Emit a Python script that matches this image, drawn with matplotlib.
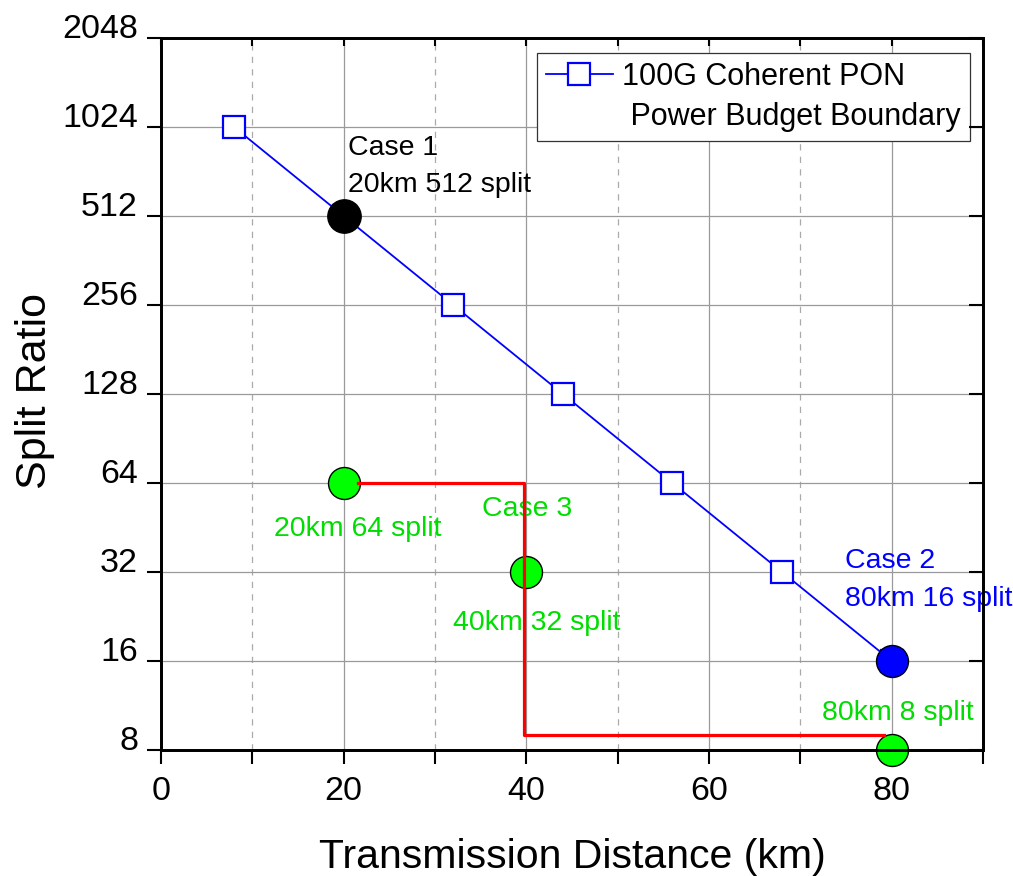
import numpy as np
import matplotlib
matplotlib.use('Agg')
import matplotlib.pyplot as plt
from matplotlib.lines import Line2D
from matplotlib.ticker import NullLocator

plt.rcParams['font.family'] = ['Liberation Sans', 'DejaVu Sans']

# power budget boundary (blue squares)
dist = [8, 20, 32, 44, 56, 68, 80]
split = [1024, 512, 256, 128, 64, 32, 16]

# case points
case1_x, case1_y = [20], [512]
case2_x, case2_y = [80], [16]
case3_x = [20, 40, 80]
case3_y = [64, 32, 8]

# red step line of case 3
red_x = [21.6, 39.7, 39.7, 79.2]
red_y = [64, 64, 9, 9]

xticks = [0, 20, 40, 60, 80]
xminor = [10, 30, 50, 70, 90]
yticks = [8, 16, 32, 64, 128, 256, 512, 1024, 2048]
ylabels = [str(v) for v in yticks]

green = '#00dd00'

fig = plt.figure(figsize=(10.13, 8.76), dpi=100)
ax = fig.add_axes([0.1589, 0.1438, 0.8115, 0.8128])
ax.set_yscale('log', base=2)
ax.set_xlim(0, 90)
ax.set_ylim(8, 2048)

# grid
ax.set_axisbelow(True)
ax.grid(which='major', color='#9a9a9a', lw=0.9)
ax.grid(which='minor', axis='x', color='#aaaaaa', lw=0.9, ls=(0, (5, 5)))

# data
ax.plot(dist, split, color='blue', lw=1.3, marker='s', ms=16,
        mfc='white', mec='blue', mew=1.6, zorder=3)
ax.plot(case1_x, case1_y, 'o', ms=24, mfc='black', mec='black', zorder=4)
ax.plot(case2_x, case2_y, 'o', ms=23, mfc='blue', mec='black', mew=1, zorder=4)
ax.plot(case3_x, case3_y, 'o', ms=23, mfc='#00ff00', mec='black', mew=1,
        zorder=4, clip_on=False)
ax.plot(red_x, red_y, color='red', lw=2.3, zorder=5)

# annotations
ax.text(20.47, 823, 'Case 1', fontsize=20.5, color='black', va='baseline')
ax.text(20.47, 617, '20km 512 split', fontsize=20.5, color='black', va='baseline')
ax.text(12.37, 42.3, '20km 64 split', fontsize=20.5, color=green, va='baseline')
ax.text(35.15, 49.5, 'Case 3', fontsize=20.5, color=green, va='baseline')
ax.text(31.97, 20.4, '40km 32 split', fontsize=20.5, color=green, va='baseline')
ax.text(74.89, 33.0, 'Case 2', fontsize=20.5, color='blue', va='baseline')
ax.text(74.89, 24.6, '80km 16 split', fontsize=20.5, color='blue', va='baseline')
ax.text(72.37, 10.1, '80km 8 split', fontsize=20.5, color=green, va='baseline')

# ticks
ax.set_xticks(xticks)
ax.set_xticks(xminor, minor=True)
ax.tick_params(axis='x', which='both', direction='out', length=10, width=1.5,
               labelsize=24.5, pad=9)
ax.set_yticks(yticks, ylabels, va='baseline')
ax.yaxis.set_minor_locator(NullLocator())
ax.tick_params(axis='y', direction='out', length=10, width=1.5,
               labelsize=24.5, pad=6.5)

axr = ax.twinx()
axr.set_yscale('log', base=2)
axr.set_ylim(8, 2048)
axr.set_yticks(yticks)
axr.yaxis.set_minor_locator(NullLocator())
axr.tick_params(axis='y', direction='in', length=10, width=1.5, labelright=False)

axt = ax.twiny()
axt.set_xlim(0, 90)
axt.set_xticks(sorted(xticks + xminor))
axt.tick_params(axis='x', direction='in', length=6, width=1.5, labeltop=False)

for a in (ax, axr, axt):
    for s in a.spines.values():
        s.set_linewidth(1.8)

# labels
ax.set_xlabel('Transmission Distance (km)', fontsize=29.5)
ax.xaxis.set_label_coords(0.5, -0.1657)
ax.xaxis.label.set_va('baseline')
ax.set_ylabel('Split Ratio', fontsize=31)
ax.yaxis.set_label_coords(-0.129, 0.504)

# legend
h1 = Line2D([], [], color='blue', lw=1.3, marker='s', ms=16,
            mfc='white', mec='blue', mew=1.6)
h2 = Line2D([], [], ls='none')
leg = ax.legend([h1, h2], ['100G Coherent PON', ' Power Budget Boundary'],
                loc='upper right', bbox_to_anchor=(0.984, 0.979),
                borderaxespad=0, fontsize=22, fancybox=False, framealpha=1,
                edgecolor='#333333', handlelength=2.2, handletextpad=0.3,
                borderpad=0.3, labelspacing=0.32, numpoints=1)
leg.get_frame().set_linewidth(0.9)

fig.savefig('out.png', dpi=100)
